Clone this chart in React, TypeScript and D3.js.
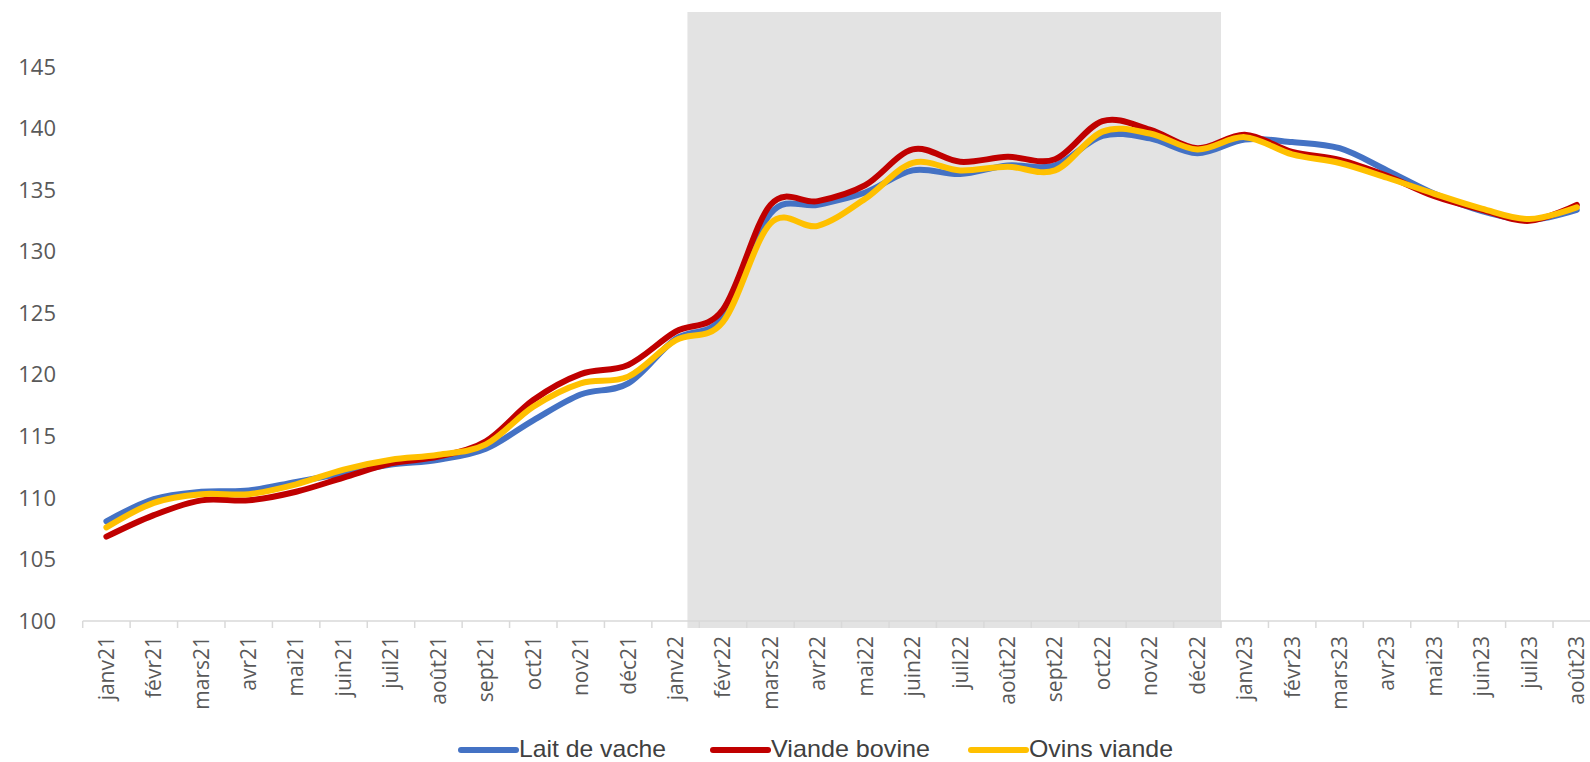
import React from "react";
import { scaleBand, scaleLinear, line, curveCardinal } from "d3";

const months = [
  "janv21", "févr21", "mars21", "avr21", "mai21", "juin21", "juil21", "août21",
  "sept21", "oct21", "nov21", "déc21", "janv22", "févr22", "mars22", "avr22",
  "mai22", "juin22", "juil22", "août22", "sept22", "oct22", "nov22", "déc22",
  "janv23", "févr23", "mars23", "avr23", "mai23", "juin23", "juil23", "août23",
];

const laitDeVache = [
  108.1, 109.9, 110.5, 110.6, 111.3, 112.0, 112.7, 113.1, 114.0, 116.3, 118.4, 119.3,
  122.9, 124.7, 133.1, 133.8, 134.8, 136.6, 136.3, 137.0, 137.0, 139.4, 139.2, 138.0,
  139.1, 138.9, 138.4, 136.6, 134.7, 133.3, 132.6, 133.4,
];
const viandeBovine = [
  106.85, 108.6, 109.8, 109.8, 110.5, 111.65, 112.8, 113.35, 114.6, 117.95, 120.05, 120.8,
  123.5, 125.3, 133.8, 134.1, 135.4, 138.3, 137.3, 137.7, 137.5, 140.6, 139.9, 138.4,
  139.5, 138.1, 137.45, 136.15, 134.5, 133.4, 132.5, 133.8,
];
const ovinsViande = [
  107.6, 109.6, 110.3, 110.3, 111.1, 112.3, 113.1, 113.5, 114.35, 117.4, 119.3, 119.85,
  122.8, 124.3, 132.3, 132.1, 134.3, 137.2, 136.6, 136.9, 136.6, 139.75, 139.6, 138.3,
  139.3, 137.9, 137.2, 136.0, 134.7, 133.5, 132.65, 133.6,
];

const yTicks = [100, 105, 110, 115, 120, 125, 130, 135, 140, 145];

const series = [
  { name: "Lait de vache", values: laitDeVache, color: "#4472C4" },
  { name: "Viande bovine", values: viandeBovine, color: "#C00000" },
  { name: "Ovins viande", values: ovinsViande, color: "#FFC000" },
];

// shaded period (2022)
const shadeFrom = "janv22";
const shadeTo = "déc22";

// legend layout: symbol start and squeezed text width (narrow font in the original)
const legendX = [461, 713, 971];
const legendW = [147, 159, 144];

export default function App() {
  const x = scaleBand().domain(months).range([82.7, 82.7 + 32 * 47.43]);
  const y = scaleLinear().domain([100, 150]).range([621, 5.4]);
  const bw = x.bandwidth();

  const myLine = line<number>()
    .x((_, i) => (x(months[i]) as number) + bw / 2)
    .y((d) => y(d))
    .curve(curveCardinal);

  const shadeX0 = (x(shadeFrom) as number) + bw * 0.75;
  const shadeX1 = (x(shadeTo) as number) + bw;

  return (
    <svg width={1590} height={762} style={{ position: "absolute", left: 0, top: 0, background: "#fff" }}>
      <rect x={shadeX0} y={12} width={shadeX1 - shadeX0} height={628 - 12} fill="#E3E3E3" />

      <g className="x-axis">
        <line x1={x.range()[0]} x2={x.range()[1]} y1={y(100)} y2={y(100)} stroke="#D9D9D9" strokeWidth={1.5} />
        {months.map((m) => (
          <line key={"t" + m} x1={x(m)} x2={x(m)} y1={y(100)} y2={628} stroke="#D9D9D9" strokeWidth={1.5} />
        ))}
        {months.map((m) => (
          <text
            key={m}
            transform={`translate(${(x(m) as number) + bw / 2},636) rotate(-90)`}
            textAnchor="end"
            dy="0.35em"
            fontFamily="'Open Sans', sans-serif"
            fontSize={21}
            fill="#595959"
          >
            {m}
          </text>
        ))}
      </g>

      <g className="y-axis">
        {yTicks.map((t) => (
          <text
            key={t}
            x={56}
            y={y(t)}
            dy="0.35em"
            textAnchor="end"
            fontFamily="'Open Sans', sans-serif"
            fontSize={22}
            fill="#595959"
          >
            {t}
          </text>
        ))}
      </g>

      {series.map((s) => (
        <path
          key={s.name}
          d={myLine(s.values) as string}
          fill="none"
          stroke={s.color}
          strokeWidth={6}
          strokeLinecap="round"
          strokeLinejoin="round"
        />
      ))}

      <g className="legend">
        {series.map((s, i) => (
          <g key={s.name}>
            <line x1={legendX[i]} x2={legendX[i] + 55} y1={750} y2={750} stroke={s.color} strokeWidth={6} strokeLinecap="round" />
            <text
              x={legendX[i] + 58}
              y={757}
              textLength={legendW[i]}
              lengthAdjust="spacingAndGlyphs"
              fontFamily="'Liberation Sans', Arial, sans-serif"
              fontSize={24}
              fill="#404040"
            >
              {s.name}
            </text>
          </g>
        ))}
      </g>
    </svg>
  );
}
